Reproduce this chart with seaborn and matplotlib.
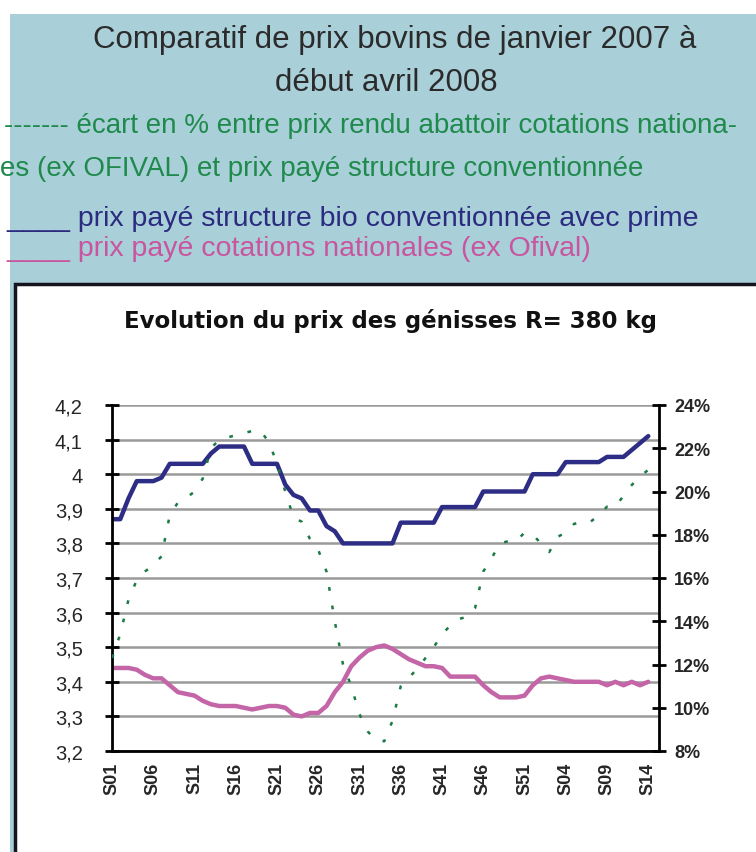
import numpy as np
import pandas as pd
import matplotlib
matplotlib.use("Agg")
import matplotlib.pyplot as plt
from matplotlib.patches import Rectangle
import seaborn as sns

# weekly prices, S01 2007 -> S14 2008 (66 weeks)
prix_bio = [3.87, 3.87, 3.93, 3.98, 3.98, 3.98, 3.99, 4.03, 4.03, 4.03,
            4.03, 4.03, 4.06, 4.08, 4.08, 4.08, 4.08, 4.03, 4.03, 4.03,
            4.03, 3.97, 3.94, 3.93, 3.895, 3.895, 3.85, 3.835, 3.80, 3.80,
            3.80, 3.80, 3.80, 3.80, 3.80, 3.86, 3.86, 3.86, 3.86, 3.86,
            3.905, 3.905, 3.905, 3.905, 3.905, 3.95, 3.95, 3.95, 3.95, 3.95,
            3.95, 4.00, 4.00, 4.00, 4.00, 4.035, 4.035, 4.035, 4.035, 4.035,
            4.05, 4.05, 4.05, 4.07, 4.09, 4.11]

prix_ofival = [3.44, 3.44, 3.44, 3.435, 3.42, 3.41, 3.41, 3.39, 3.37, 3.365,
               3.36, 3.345, 3.335, 3.33, 3.33, 3.33, 3.325, 3.32, 3.325, 3.33,
               3.33, 3.325, 3.305, 3.30, 3.31, 3.31, 3.33, 3.37, 3.40, 3.445,
               3.47, 3.49, 3.50, 3.505, 3.495, 3.48, 3.465, 3.455, 3.445, 3.445,
               3.44, 3.415, 3.415, 3.415, 3.415, 3.39, 3.37, 3.355, 3.355, 3.355,
               3.36, 3.39, 3.41, 3.415, 3.41, 3.405, 3.40, 3.40, 3.40, 3.40,
               3.39, 3.40, 3.39, 3.40, 3.39, 3.40]

ecart_pct = [12.3, 13.4, 15.0, 15.9, 16.3, 16.6, 17.0, 18.9, 19.5, 19.7,
             20.0, 20.6, 22.0, 22.4, 22.5, 22.6, 22.7, 22.8, 22.8, 22.3,
             21.3, 20.0, 18.8, 18.6, 17.8, 17.3, 16.3, 14.0, 12.0, 11.0,
             9.7, 8.9, 8.5, 8.45, 9.4, 11.0, 11.4, 11.8, 12.3, 12.8,
             13.4, 13.8, 14.1, 14.2, 14.6, 16.3, 16.9, 17.6, 17.7, 17.7,
             18.1, 18.0, 17.6, 17.2, 17.9, 18.1, 18.5, 18.6, 18.6, 18.9,
             19.3, 19.3, 19.8, 20.3, 20.7, 21.0]

week_labels = ["S01", "S06", "S11", "S16", "S21", "S26", "S31", "S36",
               "S41", "S46", "S51", "S04", "S09", "S14"]
y_ticks = [3.2, 3.3, 3.4, 3.5, 3.6, 3.7, 3.8, 3.9, 4.0, 4.1, 4.2]
y_labels = ["3,2", "3,3", "3,4", "3,5", "3,6", "3,7", "3,8", "3,9", "4", "4,1", "4,2"]
pct_ticks = [8, 10, 12, 14, 16, 18, 20, 22, 24]
pct_labels = ["8%", "10%", "12%", "14%", "16%", "18%", "20%", "22%", "24%"]

df = pd.DataFrame({
    "semaine": np.arange(len(prix_bio)),
    "bio": prix_bio,
    "ofival": prix_ofival,
    "ecart": ecart_pct,
})

sns.set_style("white")
plt.rcParams["font.family"] = ["Liberation Sans", "DejaVu Sans"]

W, H = 756, 853
fig = plt.figure(figsize=(W / 100, H / 100), dpi=100)
fig.patch.set_facecolor("white")


def fx(x):
    return x / W


def fy(y):
    return 1 - y / H


# light blue slide background + white chart panel
fig.patches.append(Rectangle((fx(10), 0), 1, fy(15), transform=fig.transFigure,
                             facecolor="#a9cfd9", edgecolor="none", zorder=-3))
fig.patches.append(Rectangle((fx(15), -0.05), 1, fy(285) + 0.05, transform=fig.transFigure,
                             facecolor="white", edgecolor="#15151f", linewidth=2.5, zorder=-2))

# texts above the chart
fig.text(fx(395), fy(48), "Comparatif de prix bovins de janvier 2007 à", ha="center",
         va="baseline", fontsize=22.5, color="#2b2b2b")
fig.text(fx(386), fy(91), "début avril 2008", ha="center", va="baseline",
         fontsize=22.5, color="#2b2b2b")
fig.text(fx(4), fy(133), "------- écart en % entre prix rendu abattoir cotations nationa-",
         ha="left", va="baseline", fontsize=20, color="#1f8a4c")
fig.text(fx(0), fy(176), "es (ex OFIVAL) et prix payé structure conventionnée",
         ha="left", va="baseline", fontsize=20, color="#1f8a4c")
fig.text(fx(6), fy(226), "____ prix payé structure bio conventionnée avec prime",
         ha="left", va="baseline", fontsize=20.5, color="#2b2b80")
fig.text(fx(6), fy(256), "____ prix payé cotations nationales (ex Ofival)",
         ha="left", va="baseline", fontsize=20.5, color="#c8559f")

fig.text(fx(390), fy(328), "Evolution du prix des génisses R= 380 kg", ha="center",
         va="baseline", fontsize=16.5, fontweight="bold", family="DejaVu Sans", color="#111111")

# main axes
ax = fig.add_axes([fx(112), fy(752), (659 - 112) / W, (752 - 406) / H])
ax.set_facecolor("white")
sns.lineplot(data=df, x="semaine", y="bio", ax=ax, color="#2d2d86", linewidth=3.2)
sns.lineplot(data=df, x="semaine", y="ofival", ax=ax, color="#c365a6", linewidth=3.2)
ax.set_xlim(0, 66.3)
ax.set_ylim(3.2, 4.2)
ax.set_yticks(y_ticks)
ax.set_yticklabels(y_labels, fontsize=14.5)
ax.set_xticks(np.arange(0, len(prix_bio), 5))
ax.set_xticklabels(week_labels, rotation=90, fontsize=13, fontweight="bold")
ax.set_xticks(np.arange(0, 67, 2), minor=True)
ax.set_xlabel("")
ax.set_ylabel("")
ax.yaxis.grid(True, color="#9a9a9a", linewidth=1.8)
ax.set_axisbelow(True)
ax.tick_params(axis="x", which="major", length=0, pad=8)
ax.tick_params(axis="x", which="minor", direction="inout", length=10, width=2, color="black")
ax.tick_params(axis="y", direction="inout", length=10, width=2, color="black", pad=16)
for s in ["top", "right"]:
    ax.spines[s].set_visible(False)
for s in ["left", "bottom"]:
    ax.spines[s].set_color("black")
    ax.spines[s].set_linewidth(2)

# secondary axis for the % gap
ax2 = ax.twinx()
sns.lineplot(data=df, x="semaine", y="ecart", ax=ax2, color="#1b7a45", linewidth=1.8,
             linestyle=(0, (1.5, 6)))
ax2.set_ylim(8, 24)
ax2.set_yticks(pct_ticks)
ax2.set_yticklabels(pct_labels, fontsize=13, fontweight="bold")
ax2.set_ylabel("")
ax2.tick_params(axis="y", direction="inout", length=10, width=2, color="black", pad=6)
for s in ["top", "left", "bottom"]:
    ax2.spines[s].set_visible(False)
ax2.spines["right"].set_color("black")
ax2.spines["right"].set_linewidth(2)

fig.savefig("out.png", dpi=100)
